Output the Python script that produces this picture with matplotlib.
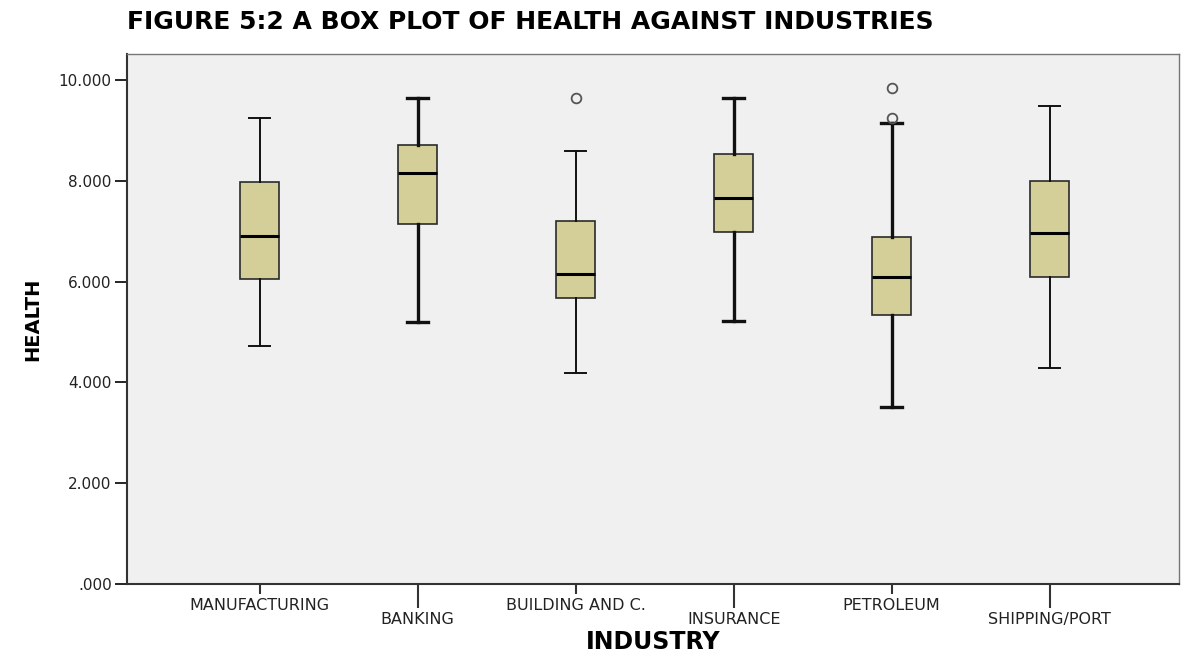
import numpy as np
import matplotlib
matplotlib.use("Agg")
import matplotlib.pyplot as plt

# the reference is a horizontally stretched SPSS export, so use the wide DejaVu face
plt.rcParams["font.family"] = ["DejaVu Sans"]

industries = ["MANUFACTURING", "BANKING", "BUILDING AND C.", "INSURANCE", "PETROLEUM", "SHIPPING/PORT"]
whisker_low = [4.72, 5.20, 4.19, 5.22, 3.52, 4.29]
q1 = [6.05, 7.15, 5.67, 6.98, 5.33, 6.10]
medians = [6.90, 8.15, 6.16, 7.66, 6.10, 6.97]
q3 = [7.98, 8.71, 7.20, 8.53, 6.88, 7.99]
whisker_high = [9.25, 9.65, 8.60, 9.65, 9.15, 9.48]
outliers = [[], [], [9.65], [], [9.85, 9.24], []]
yticks = [0, 2, 4, 6, 8, 10]
ytick_labels = [".000", "2.000", "4.000", "6.000", "8.000", "10.000"]

stats = []
for i, name in enumerate(industries):
    stats.append({
        "label": name,
        "whislo": whisker_low[i], "q1": q1[i], "med": medians[i],
        "q3": q3[i], "whishi": whisker_high[i], "fliers": outliers[i],
    })

fig = plt.figure(figsize=(11.81, 6.56), dpi=100)
ax = fig.add_axes([0.1075, 0.1098, 0.891, 0.808])
ax.set_facecolor("#f0f0f0")

pos = np.arange(len(industries))
bp = ax.bxp(stats, positions=pos, widths=0.25, capwidths=0.13, patch_artist=True,
            boxprops=dict(facecolor="#d4cf98", edgecolor="#2a2a2a", linewidth=1.2),
            medianprops=dict(color="black", linewidth=2.2),
            whiskerprops=dict(color="#111111", linewidth=1.4),
            capprops=dict(color="#111111", linewidth=1.4),
            flierprops=dict(marker="o", markersize=7, markerfacecolor="none",
                            markeredgecolor="#555555", markeredgewidth=1.3))

# some whiskers in the original are drawn heavier
for i in (1, 3, 4):
    for ln in bp["whiskers"][2 * i:2 * i + 2] + bp["caps"][2 * i:2 * i + 2]:
        ln.set_linewidth(2.4)

ax.set_ylim(0, 10.52)
ax.set_xlim(-0.84, 5.82)
ax.set_yticks(yticks)
ax.set_yticklabels(ytick_labels, fontsize=11, color="#222222")
ax.tick_params(axis="y", length=9, width=1.2, pad=2)

# staggered category labels: even ones on major ticks, odd ones on longer minor ticks
ax.set_xticks(pos[::2])
ax.set_xticklabels(industries[::2], fontsize=11.5, color="#222222")
ax.set_xticks(pos[1::2], minor=True)
ax.set_xticklabels(industries[1::2], minor=True, fontsize=11.5, color="#222222")
ax.tick_params(axis="x", which="major", length=7, width=1.5, pad=3, color="#333333")
ax.tick_params(axis="x", which="minor", length=17, width=1.5, pad=3, color="#333333")

for side in ("left", "bottom"):
    ax.spines[side].set_color("#333333")
    ax.spines[side].set_linewidth(1.5)
for side in ("top", "right"):
    ax.spines[side].set_color("#777777")
    ax.spines[side].set_linewidth(1.0)

ax.set_xlabel("INDUSTRY", fontsize=17, fontweight="bold", labelpad=2)
ax.set_ylabel("HEALTH", fontsize=14, fontweight="bold", labelpad=12)
fig.text(0.1075, 0.966, "FIGURE 5:2 A BOX PLOT OF HEALTH AGAINST INDUSTRIES",
         fontsize=18, fontweight="bold", va="center", ha="left")

fig.savefig("out.png", dpi=100)
